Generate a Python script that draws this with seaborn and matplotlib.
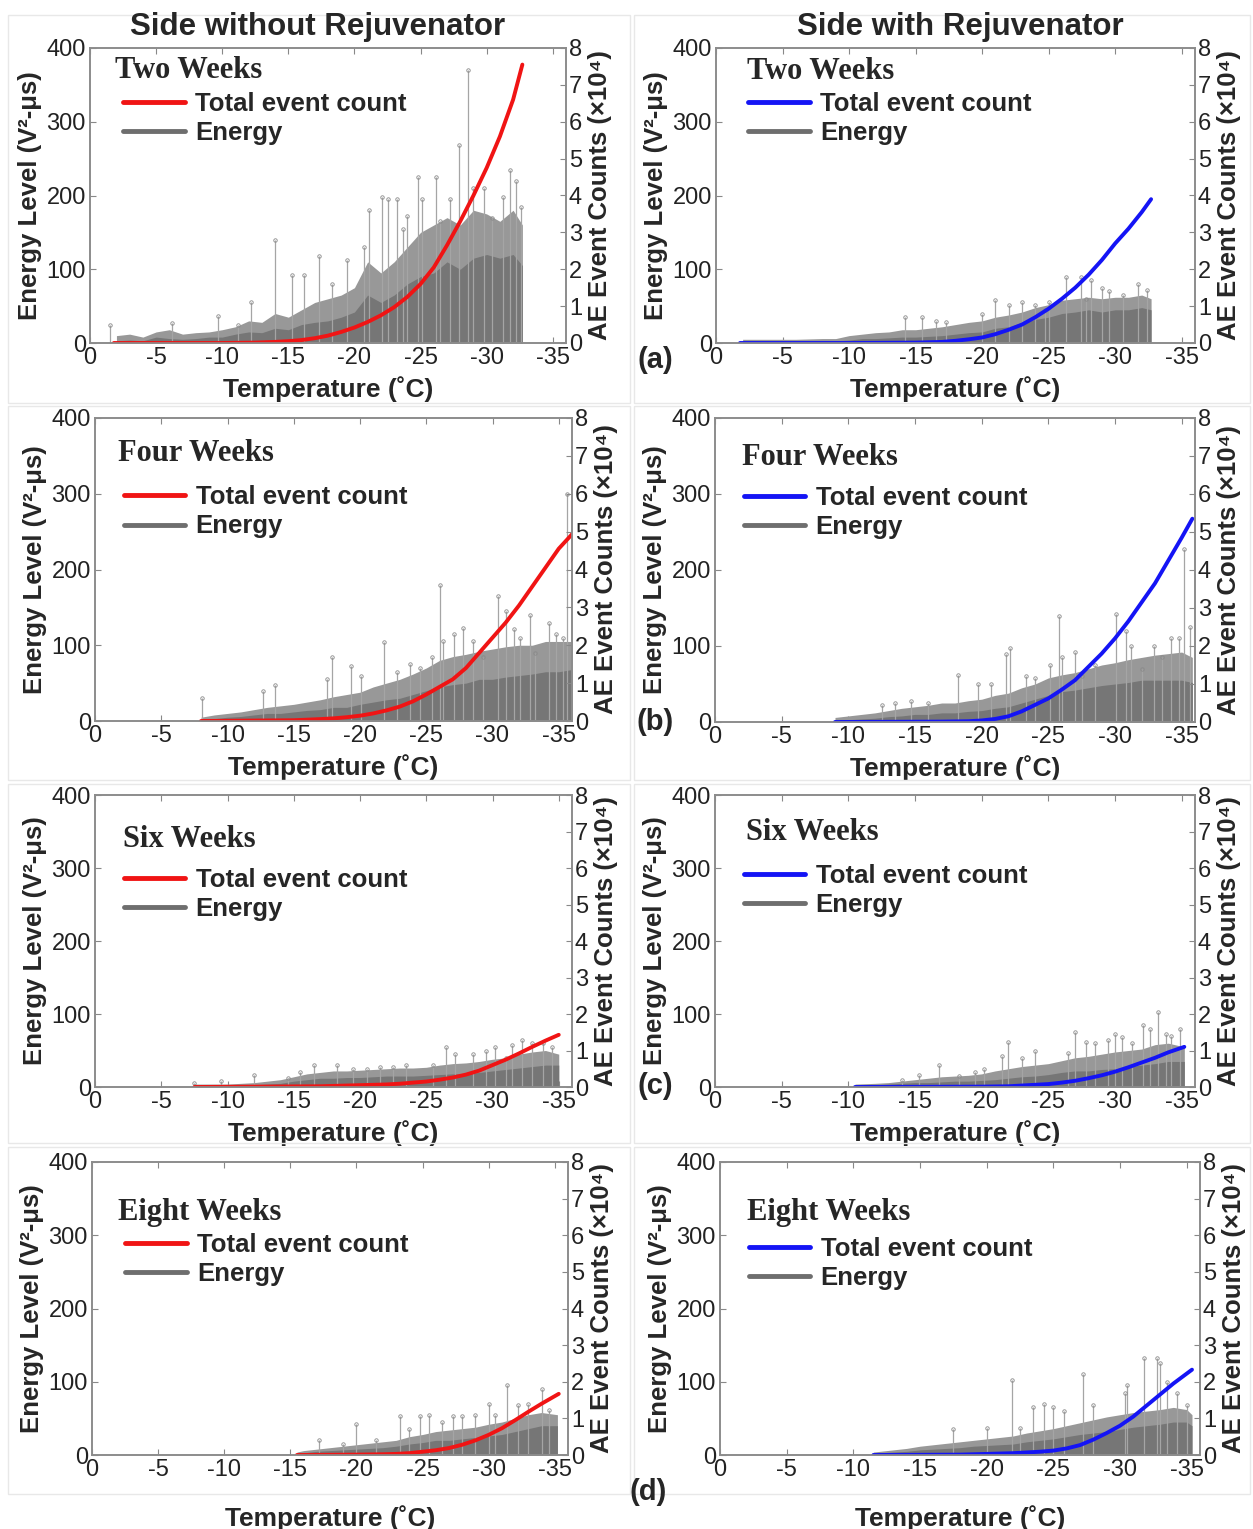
import matplotlib
matplotlib.use("Agg")
import matplotlib.pyplot as plt
from matplotlib.lines import Line2D
from matplotlib.patches import Rectangle
import seaborn as sns

# ---- data ----
weeks = ["Two Weeks", "Four Weeks", "Six Weeks", "Eight Weeks"]
col_titles = ["Side without Rejuvenator", "Side with Rejuvenator"]
panel_tags = ["(a)", "(b)", "(c)", "(d)"]

# cumulative AE event counts (x10^4) vs temperature
cnt_t_2w_wo = [-1.8, -5, -10, -12.5, -14, -15, -16, -17, -18, -19, -20, -21, -22, -23, -24, -25,
               -26, -27, -28, -29, -30, -31, -32, -32.7]
cnt_v_2w_wo = [0, 0, 0, 0.01, 0.03, 0.05, 0.08, 0.13, 0.2, 0.3, 0.42, 0.57, 0.75, 0.97, 1.25, 1.6,
               2.05, 2.65, 3.3, 4.0, 4.75, 5.6, 6.6, 7.55]
cnt_t_2w_w = [-1.8, -10, -15, -16, -17, -18, -19, -20, -21, -22, -23, -24, -25, -26, -27, -28,
              -29, -30, -31, -32, -32.7]
cnt_v_2w_w = [0, 0, 0.01, 0.02, 0.03, 0.06, 0.1, 0.15, 0.24, 0.36, 0.5, 0.7, 0.93, 1.2, 1.5, 1.85,
              2.25, 2.7, 3.1, 3.55, 3.9]
cnt_t_4w_wo = [-8, -15, -17, -18, -19, -20, -21, -22, -23, -24, -25, -26, -27, -28, -29, -30,
               -31, -32, -33, -34, -35, -36]
cnt_v_4w_wo = [0, 0.02, 0.05, 0.07, 0.1, 0.14, 0.2, 0.28, 0.38, 0.52, 0.7, 0.9, 1.1, 1.4, 1.8, 2.2,
               2.6, 3.05, 3.55, 4.05, 4.55, 4.93]
cnt_t_4w_w = [-9, -17, -19, -20, -21, -22, -23, -24, -25, -26, -27, -28, -29, -30, -31, -32,
              -33, -34, -35, -35.8]
cnt_v_4w_w = [0, 0.01, 0.02, 0.04, 0.08, 0.15, 0.28, 0.45, 0.62, 0.85, 1.1, 1.45, 1.8, 2.2, 2.65, 3.15,
              3.65, 4.25, 4.85, 5.35]
cnt_t_6w_wo = [-7.5, -17, -20, -22, -23, -24, -25, -26, -27, -28, -29, -30, -31, -32, -33, -34, -35]
cnt_v_6w_wo = [0, 0.02, 0.05, 0.07, 0.09, 0.12, 0.15, 0.2, 0.26, 0.34, 0.45, 0.6, 0.75, 0.92, 1.1,
               1.27, 1.43]
cnt_t_6w_w = [-10.5, -20, -22, -23, -24, -25, -26, -27, -28, -29, -30, -31, -32, -33, -34, -35.2]
cnt_v_6w_w = [0, 0.01, 0.02, 0.04, 0.06, 0.08, 0.12, 0.17, 0.24, 0.32, 0.42, 0.54, 0.67, 0.8, 0.95, 1.1]
cnt_t_8w_wo = [-15.5, -20, -22, -23, -24, -25, -26, -27, -28, -29, -30, -31, -32, -33, -34, -35.3]
cnt_v_8w_wo = [0, 0.01, 0.02, 0.03, 0.05, 0.09, 0.13, 0.19, 0.28, 0.4, 0.55, 0.73, 0.95, 1.18, 1.4, 1.67]
cnt_t_8w_w = [-11.5, -18, -20, -22, -23, -24, -25, -26, -27, -28, -29, -30, -31, -32, -33, -34, -35.4]
cnt_v_8w_w = [0, 0.01, 0.03, 0.05, 0.07, 0.09, 0.12, 0.18, 0.27, 0.42, 0.6, 0.8, 1.05, 1.35, 1.65,
              1.95, 2.33]

# dense energy mass: dark core level and lighter fringe level (V^2-us)
body_t_2w_wo = [-2, -3, -4, -5, -6, -7, -8, -9, -10, -11, -12, -13, -14, -15, -16, -17, -18, -19, -20,
                -21, -22, -23, -24, -25, -26, -27, -28, -29, -30, -31, -32, -32.7]
body_v_2w_wo = [3, 4, 3, 8, 6, 5, 6, 8, 8, 12, 15, 14, 20, 18, 25, 28, 30, 35, 42,
                65, 55, 65, 80, 90, 95, 110, 100, 115, 120, 115, 120, 105]
frng_v_2w_wo = [10, 12, 8, 15, 18, 12, 14, 15, 18, 22, 30, 28, 40, 35, 45, 55, 60, 65, 75,
                110, 95, 110, 130, 150, 160, 170, 160, 180, 175, 165, 180, 160]
body_t_2w_w = [-2, -4, -6, -8, -9, -10, -11, -12, -13, -14, -15, -16, -17, -18, -19, -20,
               -21, -22, -23, -24, -25, -26, -27, -28, -29, -30, -31, -32, -32.7]
body_v_2w_w = [2, 2, 2, 3, 3, 4, 6, 6, 7, 8, 8, 9, 10, 12, 14, 15,
               20, 22, 28, 32, 35, 40, 42, 45, 42, 45, 45, 48, 45]
frng_v_2w_w = [5, 5, 5, 6, 6, 10, 12, 14, 15, 18, 18, 20, 22, 25, 28, 30,
               35, 38, 42, 48, 52, 58, 60, 62, 60, 62, 62, 65, 60]
body_t_4w_wo = [-8, -9, -10, -11, -12, -13, -14, -15, -16, -17, -18, -19, -20, -21, -22,
                -23, -24, -25, -26, -27, -28, -29, -30, -31, -32, -33, -34, -35, -36]
body_v_4w_wo = [2, 3, 5, 6, 8, 10, 10, 12, 14, 15, 18, 18, 22, 25, 28,
                30, 35, 40, 45, 48, 50, 55, 55, 58, 60, 62, 65, 65, 68]
frng_v_4w_wo = [5, 8, 10, 12, 15, 18, 20, 22, 25, 28, 32, 35, 38, 45, 50,
                55, 62, 70, 80, 85, 88, 92, 95, 98, 100, 100, 105, 105, 105]
body_t_4w_w = [-9, -10, -11, -12, -13, -14, -15, -16, -17, -18, -19, -20, -21, -22,
               -23, -24, -25, -26, -27, -28, -29, -30, -31, -32, -33, -34, -35, -35.8]
body_v_4w_w = [3, 3, 4, 5, 7, 8, 10, 10, 12, 12, 14, 15, 18, 20,
               25, 30, 35, 40, 42, 45, 48, 50, 52, 55, 55, 55, 55, 52]
frng_v_4w_w = [6, 8, 10, 12, 15, 18, 20, 22, 25, 25, 28, 30, 35, 38,
               45, 50, 58, 62, 65, 70, 75, 78, 82, 85, 88, 90, 92, 85]
body_t_6w_wo = [-7.5, -9, -10, -11, -12, -13, -14, -15, -16, -17, -18, -19, -20, -21, -22,
                -23, -24, -25, -26, -27, -28, -29, -30, -31, -32, -33, -34, -35]
body_v_6w_wo = [2, 2, 2, 2, 3, 4, 5, 8, 10, 12, 12, 13, 13, 14, 15,
                15, 15, 16, 17, 18, 18, 20, 22, 24, 26, 28, 30, 30]
frng_v_6w_wo = [4, 4, 4, 5, 6, 8, 10, 14, 18, 20, 22, 22, 23, 24, 25,
                26, 26, 27, 30, 32, 33, 35, 38, 40, 45, 48, 50, 45]
body_t_6w_w = [-10.5, -12, -13, -14, -15, -16, -17, -18, -19, -20, -21, -22, -23,
               -24, -25, -26, -27, -28, -29, -30, -31, -32, -33, -34, -35.2]
body_v_6w_w = [2, 3, 4, 5, 6, 6, 7, 8, 8, 9, 10, 12, 14,
               15, 17, 20, 22, 22, 24, 25, 28, 30, 32, 35, 35]
frng_v_6w_w = [4, 5, 6, 8, 10, 12, 14, 15, 16, 18, 22, 25, 28,
               30, 32, 36, 40, 42, 45, 48, 50, 52, 58, 60, 55]
body_t_8w_wo = [-15.5, -16, -17, -18, -19, -20, -21, -22, -23, -24, -25, -26, -27,
                -28, -29, -30, -31, -32, -33, -34, -35.2]
body_v_8w_wo = [2, 3, 5, 6, 7, 8, 9, 10, 12, 15, 17, 20, 20,
                22, 24, 26, 28, 32, 36, 40, 40]
frng_v_8w_wo = [4, 6, 8, 10, 12, 14, 16, 18, 20, 25, 28, 32, 34,
                36, 38, 42, 45, 50, 55, 58, 55]
body_t_8w_w = [-11.5, -12, -13, -14, -15, -16, -17, -18, -19, -20, -21, -22, -23,
               -24, -25, -26, -27, -28, -29, -30, -31, -32, -33, -34, -35, -35.4]
body_v_8w_w = [2, 3, 4, 5, 7, 8, 9, 10, 12, 13, 14, 15, 18,
               20, 22, 25, 28, 30, 32, 35, 38, 40, 42, 45, 45, 40]
frng_v_8w_w = [4, 5, 7, 9, 12, 14, 16, 18, 20, 22, 24, 26, 30,
               33, 36, 40, 44, 48, 52, 55, 58, 60, 62, 65, 62, 55]

# isolated energy spikes (V^2-us)
spk_t_2w_wo = [-1.5, -6.2, -9.7, -11.2, -12.2, -14.0, -15.3, -16.2, -17.3, -18.3, -19.4, -20.7,
               -21.1, -22.1, -22.5, -23.2, -23.7, -24.0, -24.8, -25.1, -26.2, -26.5, -27.2,
               -27.9, -28.6, -29.0, -29.8, -30.4, -31.2, -31.8, -32.2, -32.6]
spk_v_2w_wo = [25, 27, 37, 25, 55, 140, 92, 92, 118, 80, 113, 130,
               180, 198, 195, 195, 155, 172, 225, 195, 225, 165, 195,
               268, 370, 210, 210, 170, 198, 235, 220, 185]
spk_t_2w_w = [-14.2, -15.5, -16.5, -17.3, -20.0, -21.0, -22.0, -23.0, -24.0, -24.7, -25.0,
              -26.3, -27.4, -27.8, -28.2, -29.0, -29.5, -30.6, -31.7, -32.4]
spk_v_2w_w = [35, 35, 30, 28, 40, 58, 52, 55, 52, 45, 55,
              90, 90, 60, 85, 75, 70, 65, 80, 72]
spk_t_4w_wo = [-8.1, -12.7, -13.6, -17.5, -17.9, -19.3, -20.1, -21.8, -22.8, -23.8, -24.5,
               -25.4, -26.0, -26.3, -27.1, -27.8, -28.5, -29.3, -30.4, -31.0, -31.6, -32.1,
               -32.8, -33.2, -34.3, -34.8, -35.3, -35.6]
spk_v_4w_wo = [30, 40, 48, 55, 85, 72, 60, 104, 65, 75, 70,
               85, 180, 105, 115, 123, 105, 85, 165, 145, 122, 110,
               140, 90, 130, 115, 110, 300]
spk_t_4w_w = [-12.5, -13.5, -14.7, -16.0, -18.2, -19.7, -20.7, -21.8, -22.1, -23.3, -24.0,
              -25.1, -25.8, -26.0, -27.0, -27.5, -28.5, -30.1, -30.8, -31.2, -32.0, -32.9,
              -33.5, -34.2, -34.8, -35.2, -35.6]
spk_v_4w_w = [22, 25, 27, 25, 62, 50, 50, 90, 97, 60, 58,
              75, 140, 85, 92, 60, 75, 142, 120, 100, 70, 100,
              85, 110, 110, 228, 125]
spk_t_6w_wo = [-7.5, -9.5, -12.0, -14.6, -15.5, -16.5, -18.3, -19.5, -20.5, -21.5, -22.5,
               -23.5, -25.5, -26.5, -27.2, -28.5, -29.5, -30.2, -31.0, -31.5, -32.2, -33.0,
               -33.8, -34.5]
spk_v_6w_wo = [5, 8, 17, 12, 20, 30, 30, 25, 25, 27, 28,
               30, 30, 55, 45, 45, 50, 55, 40, 58, 65, 60,
               60, 55]
spk_t_6w_w = [-14.0, -15.3, -16.8, -18.3, -19.5, -20.2, -21.5, -22.0, -23.0, -24.0, -26.5,
              -27.0, -27.8, -28.5, -29.5, -30.0, -30.5, -31.3, -32.1, -32.6, -33.2, -33.8,
              -34.2, -34.9]
spk_v_6w_w = [10, 17, 30, 15, 20, 25, 42, 62, 40, 50, 47,
              76, 62, 60, 65, 72, 68, 60, 85, 80, 103, 72,
              70, 80]
spk_t_8w_wo = [-17.2, -19.0, -20.0, -21.5, -23.3, -24.0, -24.8, -25.5, -26.5, -27.3, -28.0,
               -29.0, -30.0, -30.5, -31.4, -32.2, -33.0, -34.0, -34.6]
spk_v_8w_wo = [20, 15, 42, 20, 53, 35, 53, 55, 45, 53, 53,
               55, 70, 55, 95, 68, 70, 90, 62]
spk_t_8w_w = [-17.5, -20.0, -21.9, -22.5, -23.5, -24.3, -25.0, -25.8, -27.2, -28.0, -30.4,
              -30.5, -31.8, -32.8, -33.0, -33.5, -34.3, -35.0]
spk_v_8w_w = [35, 37, 102, 37, 65, 70, 65, 60, 110, 68, 85,
              95, 133, 133, 125, 100, 85, 68]

# ---- layout ----
W, H = 1253, 1529
RED, BLUE, GRAY = "#f01414", "#1414f5", "#767676"

# axes boxes in pixels (x0, y0, x1, y1)
boxes = [
    [(90, 48, 566, 343), (716, 48, 1195, 343)],
    [(95, 418, 572, 721), (715, 418, 1195, 722)],
    [(95, 795, 572, 1087), (715, 795, 1195, 1087)],
    [(92, 1162, 568, 1455), (720, 1162, 1200, 1455)],
]
title_pos = [[(0.053, 0.925), (0.065, 0.92)], [(0.048, 0.884), (0.056, 0.871)],
             [(0.059, 0.846), (0.065, 0.87)], [(0.055, 0.829), (0.056, 0.829)]]
legend_pos = [[(0.07, 0.762), (0.067, 0.762)], [(0.06, 0.69), (0.06, 0.688)],
              [(0.06, 0.66), (0.06, 0.672)], [(0.07, 0.668), (0.06, 0.655)]]
xlabel_pad = [5, 5, 5, 17]
frames = [(15, 403), (406, 780), (784, 1143), (1147, 1494)]

panels = [
    [(cnt_t_2w_wo, cnt_v_2w_wo, body_t_2w_wo, body_v_2w_wo, frng_v_2w_wo, spk_t_2w_wo, spk_v_2w_wo),
     (cnt_t_2w_w, cnt_v_2w_w, body_t_2w_w, body_v_2w_w, frng_v_2w_w, spk_t_2w_w, spk_v_2w_w)],
    [(cnt_t_4w_wo, cnt_v_4w_wo, body_t_4w_wo, body_v_4w_wo, frng_v_4w_wo, spk_t_4w_wo, spk_v_4w_wo),
     (cnt_t_4w_w, cnt_v_4w_w, body_t_4w_w, body_v_4w_w, frng_v_4w_w, spk_t_4w_w, spk_v_4w_w)],
    [(cnt_t_6w_wo, cnt_v_6w_wo, body_t_6w_wo, body_v_6w_wo, frng_v_6w_wo, spk_t_6w_wo, spk_v_6w_wo),
     (cnt_t_6w_w, cnt_v_6w_w, body_t_6w_w, body_v_6w_w, frng_v_6w_w, spk_t_6w_w, spk_v_6w_w)],
    [(cnt_t_8w_wo, cnt_v_8w_wo, body_t_8w_wo, body_v_8w_wo, frng_v_8w_wo, spk_t_8w_wo, spk_v_8w_wo),
     (cnt_t_8w_w, cnt_v_8w_w, body_t_8w_w, body_v_8w_w, frng_v_8w_w, spk_t_8w_w, spk_v_8w_w)],
]

sns.set_style("ticks")
plt.rcParams['font.family'] = ['Liberation Sans', 'DejaVu Sans']

fig = plt.figure(figsize=(W / 100, H / 100), dpi=100)


def px_box(x0, y0, x1, y1):
    return [x0 / W, 1 - y1 / H, (x1 - x0) / W, (y1 - y0) / H]


# faint frames around each panel
for ya, yb in frames:
    for xa, xb in [(8, 630), (634, 1250)]:
        fig.patches.append(Rectangle((xa / W, 1 - yb / H), (xb - xa) / W, (yb - ya) / H,
                                     transform=fig.transFigure, fill=False,
                                     ec="#e8e8e8", lw=1))

for r in range(4):
    for c in range(2):
        ct, cv, bt, bv, fv, st, sv = panels[r][c]
        color = RED if c == 0 else BLUE
        ax = fig.add_axes(px_box(*boxes[r][c]))
        ax.fill_between(bt, fv, 0, color="#989898", lw=0)
        ax.fill_between(bt, bv, 0, color=GRAY, lw=0)
        ax.vlines(st, 0, sv, color="#a5a5a5", lw=0.9)
        ax.plot(st, sv, "o", ms=2.5, mfc="none", mec="#8a8a8a", mew=0.6)
        ax.set_xlim(0, -36)
        ax.set_ylim(0, 400)
        ax.set_xticks([0, -5, -10, -15, -20, -25, -30, -35])
        ax.set_xticklabels(["0", "-5", "-10", "-15", "-20", "-25", "-30", "-35"])
        ax.set_yticks([0, 100, 200, 300, 400])
        ax.tick_params(direction="in", labelsize=17, labelcolor="#222222", color="#888888",
                       top=True, length=4, pad=3)
        ax.set_xlabel("Temperature (˚C)", fontsize=19, fontweight="bold", labelpad=xlabel_pad[r])
        ax.set_ylabel("Energy Level (V²-μs)", fontsize=18.5, fontweight="bold", labelpad=3)

        ax2 = ax.twinx()
        sns.lineplot(x=ct, y=cv, ax=ax2, color=color, lw=2.8, sort=False)
        ax2.set_ylim(0, 8)
        ax2.set_yticks(range(9))
        ax2.tick_params(direction="in", labelsize=17, labelcolor="#222222", color="#888888",
                        length=4, pad=2)
        ax2.set_ylabel("AE Event Counts (×10⁴)", fontsize=18.5, fontweight="bold", labelpad=4)
        for a in (ax, ax2):
            for s in a.spines.values():
                s.set_color("#8c8c8c")
                s.set_linewidth(1.2)

        tx, ty = title_pos[r][c]
        ax2.text(tx, ty, weeks[r], transform=ax.transAxes, fontsize=22, fontweight="bold",
                 family=["Liberation Serif", "DejaVu Serif"], va="center", ha="left")
        handles = [Line2D([], [], color=color, lw=3.5), Line2D([], [], color="#6e6e6e", lw=3.5)]
        ax2.legend(handles, ["Total event count", "Energy"], loc="center left",
                   bbox_to_anchor=(legend_pos[r][c][0], legend_pos[r][c][1]),
                   frameon=False, prop={"weight": "bold", "size": 18.5}, handlelength=2.4,
                   handletextpad=0.4, labelspacing=0.2, borderpad=0, borderaxespad=0)

fig.text(318 / W, 1 - 27 / H, col_titles[0], fontsize=22.5, fontweight="bold", ha="center", va="center")
fig.text(960 / W, 1 - 27 / H, col_titles[1], fontsize=22.5, fontweight="bold", ha="center", va="center")
for (x, y), tag in zip([(655, 360), (655, 722), (655, 1086), (648, 1492)], panel_tags):
    fig.text(x / W, 1 - y / H, tag, fontsize=21, fontweight="bold", ha="center", va="center")

fig.savefig("out.png", dpi=100)
